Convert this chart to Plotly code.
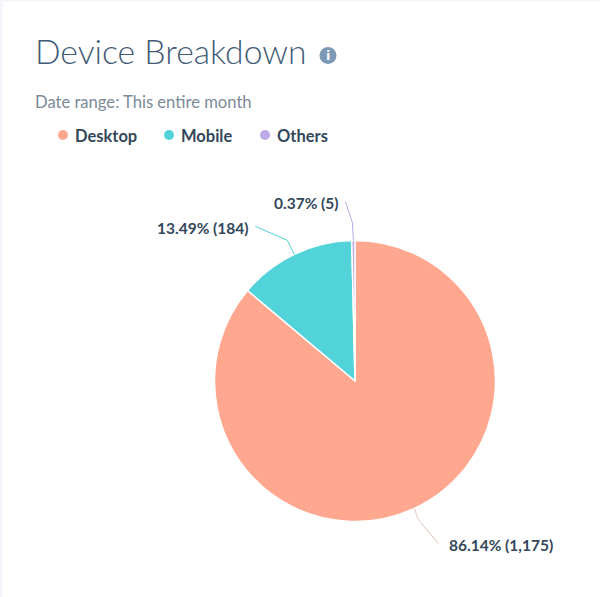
import math
import plotly.graph_objects as go

categories = ["Desktop", "Mobile", "Others"]
counts = [1175, 184, 5]
percent_labels = ["86.14% (1,175)", "13.49% (184)", "0.37% (5)"]
colors = ["#ffa78f", "#51d3d9", "#bda9e6"]
line_colors = ["#dcc4bb", "#51d3d9", "#bda9e6"]

W, H = 600, 597
CX, CY, R = 355, 381, 140.5

def px(x):
    return x / W

def py(y):
    return 1 - y / H

fig = go.Figure(go.Pie(
    labels=categories, values=counts, sort=False, direction="clockwise", rotation=0,
    marker=dict(colors=colors, line=dict(color="#ffffff", width=1.5)),
    textinfo="none", hoverinfo="label+percent", showlegend=False,
    domain=dict(x=[px(CX - R), px(CX + R)], y=[py(CY + R), py(CY - R)]),
))

shapes = [
    dict(type="rect", xref="paper", yref="paper", x0=0, x1=px(2.5), y0=0, y1=1,
         fillcolor="#f3f5fa", line_width=0),
    dict(type="rect", xref="paper", yref="paper", x0=0, x1=1, y0=py(1.5), y1=1,
         fillcolor="#f3f5fa", line_width=0),
]
annotations = []

def text(x, y, s, size, color, anchor="left", family="Lato", weight=400):
    annotations.append(dict(
        x=px(x), y=py(y), xref="paper", yref="paper", text=s, showarrow=False,
        xanchor=anchor, yanchor="middle", align=anchor, borderpad=0, borderwidth=0,
        font=dict(family=family, size=size, color=color, weight=weight),
    ))

def circle(x, y, r, color):
    shapes.append(dict(type="circle", xref="paper", yref="paper",
                       x0=px(x - r), x1=px(x + r), y0=py(y + r), y1=py(y - r),
                       fillcolor=color, line_width=0))

text(35, 51, "Device Breakdown", 33.7, "#425b76", weight=300)
circle(328, 55.5, 8.5, "#7c98b6")
text(328, 55.5, "i", 13, "#ffffff", anchor="center", family="DejaVu Sans", weight=700)
text(34.5, 102, "Date range: This entire month", 16.6, "#7c8a98")

legend_dot_x = [63, 169, 265]
legend_text_x = [75, 181, 277]
for cat, col, dx, tx in zip(categories, colors, legend_dot_x, legend_text_x):
    circle(dx, 135, 5, col)
    text(tx, 136.5, cat, 16.5, "#33475b", weight=700)

# Leader lines start at each slice's mid-angle on the rim, computed from the data.
total = sum(counts)
cum = 0
elbow_offsets = [(4, 11), (-7, -14), (-1, -18)]
end_offsets = [(20, 24), (-32, -14), (-7, -21)]
for v, col, el, en in zip(counts, line_colors, elbow_offsets, end_offsets):
    a = 2 * math.pi * (cum + v / 2) / total
    cum += v
    sx, sy = CX + R * math.sin(a), CY - R * math.cos(a)
    x1, y1 = sx + el[0], sy + el[1]
    x2, y2 = x1 + en[0], y1 + en[1]
    shapes.append(dict(type="path", xref="paper", yref="paper", line=dict(color=col, width=1),
                       path=f"M {px(sx)} {py(sy)} L {px(x1)} {py(y1)} L {px(x2)} {py(y2)}"))

label_pos = [(553, 545, "right"), (249, 228, "right"), (339, 203, "right")]
for s, (x, y, anc) in zip(percent_labels, label_pos):
    text(x, y, s, 15.5, "#33475b", anchor=anc, weight=700)

fig.update_layout(
    width=W, height=H, margin=dict(l=0, r=0, t=0, b=0),
    paper_bgcolor="#ffffff", plot_bgcolor="#ffffff",
    shapes=shapes, annotations=annotations,
)
fig.write_html("out.html", config=dict(displayModeBar=False),
               post_script="document.body.style.margin='0';document.documentElement.style.overflow='hidden';")
